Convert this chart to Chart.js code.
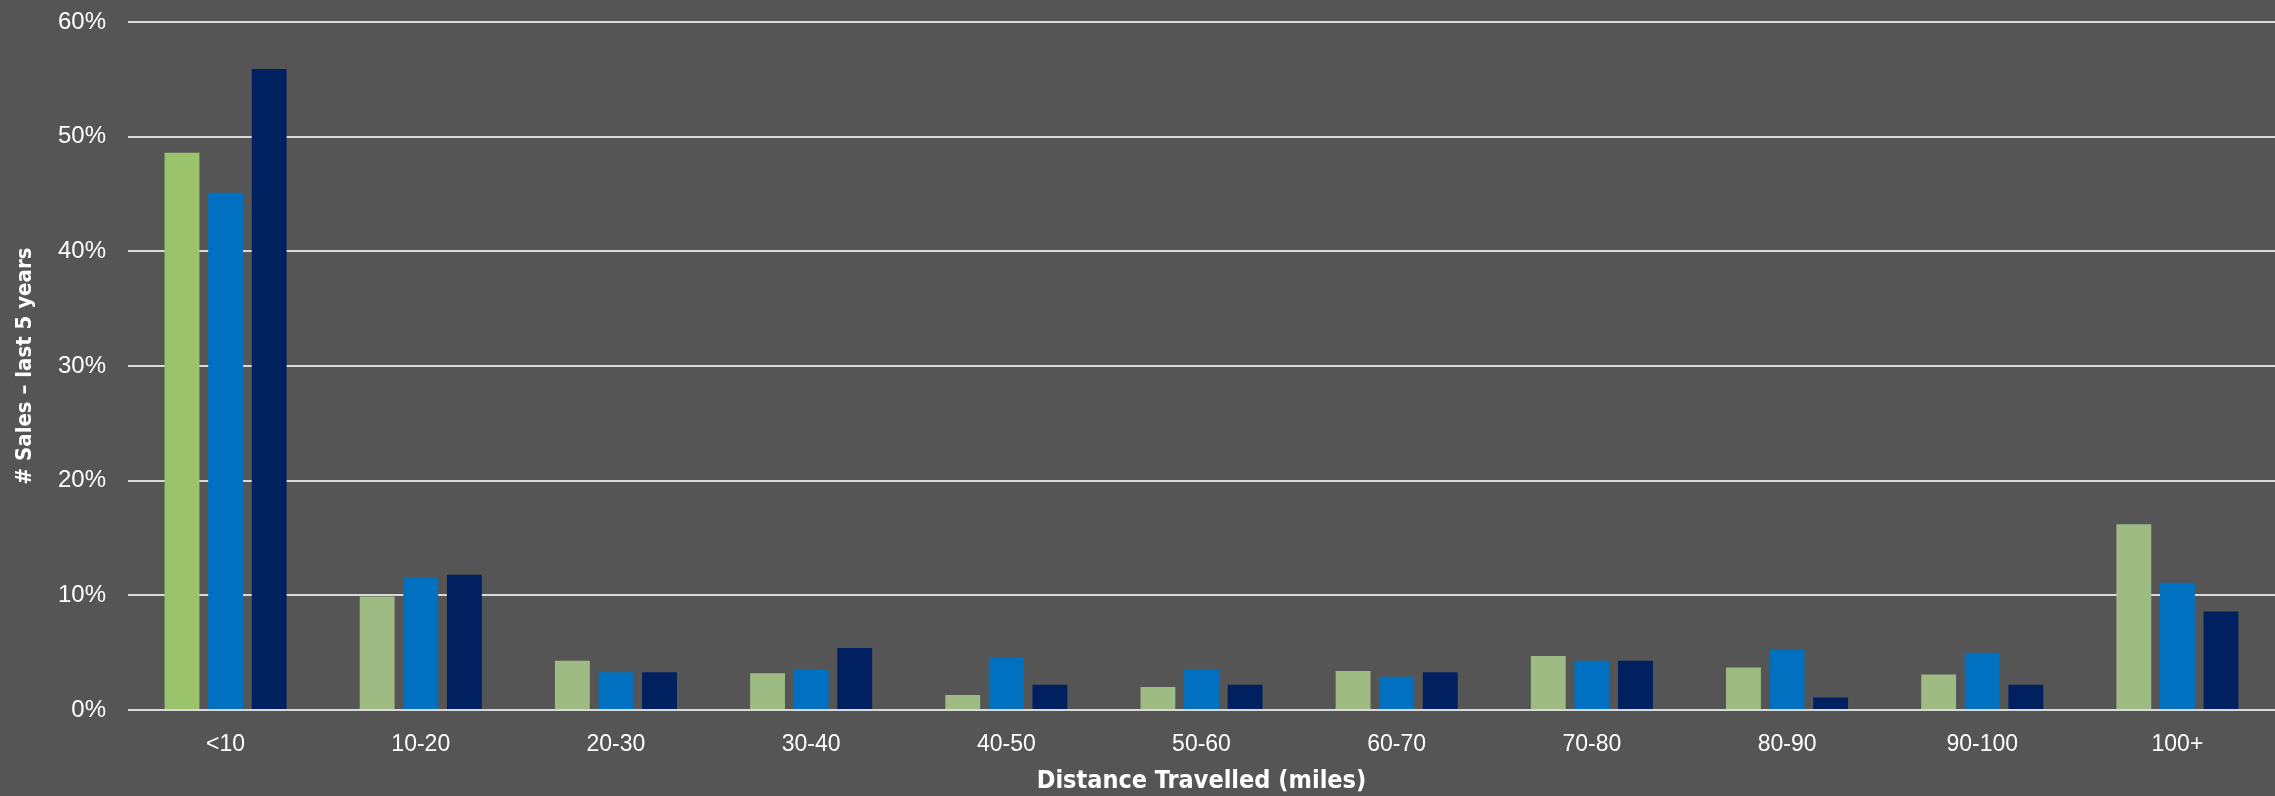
<!DOCTYPE html>
<html>
<head>
<meta charset="utf-8">
<title>Distance Travelled</title>
<script src="https://cdn.jsdelivr.net/npm/chart.js@4/dist/chart.umd.min.js"></script>
<style>
    html, body { margin: 0; padding: 0; background: #555555; }
    #wrap { width: 2275px; height: 796px; }
</style>
</head>
<body>
<div id="wrap"><canvas id="salesChart" width="2275" height="796"></canvas></div>
<script>
// values, in percent
var categories = ['<10', '10-20', '20-30', '30-40', '40-50', '50-60', '60-70', '70-80', '80-90', '90-100', '100+'];
var greenSeries = [48.6, 9.9, 4.3, 3.2, 1.3, 2.0, 3.4, 4.7, 3.7, 3.1, 16.2];
var blueSeries  = [45.1, 11.6, 3.3, 3.5, 4.6, 3.5, 2.9, 4.3, 5.3, 5.0, 11.1];
var navySeries  = [55.9, 11.8, 3.3, 5.4, 2.2, 2.2, 3.3, 4.3, 1.1, 2.2, 8.6];
var yTicks = [0, 10, 20, 30, 40, 50, 60];

window.sales = window.sales || {};
window.sales.DistanceChart = function() {
    var self = this;
    var narrow = "'Liberation Sans Narrow', 'Arial Narrow', 'DejaVu Sans Condensed', Roboto, 'Liberation Sans', sans-serif";

    var init = function() {
        self.el = document.getElementById('salesChart');
        render();
    };

    var greenColors = function() {
        // first bar is the brighter green, the rest are the washed one
        return greenSeries.map(function(v, i) { return i === 0 ? '#9BC36B' : '#9EBB83'; });
    };

    var render = function() {
        var bar = { categoryPercentage: 0.67, barPercentage: 0.8, borderWidth: 0 };
        new Chart(self.el, {
            type: 'bar',
            data: {
                labels: categories,
                datasets: [
                    Object.assign({ label: 'Series 1', data: greenSeries, backgroundColor: greenColors() }, bar),
                    Object.assign({ label: 'Series 2', data: blueSeries, backgroundColor: '#0070C0' }, bar),
                    Object.assign({ label: 'Series 3', data: navySeries, backgroundColor: '#002060' }, bar)
                ]
            },
            options: {
                responsive: false,
                animation: false,
                layout: { padding: { top: 22, right: 0, left: 0, bottom: 0 } },
                plugins: { legend: { display: false }, tooltip: { enabled: false } },
                scales: {
                    x: {
                        grid: { display: false },
                        border: { display: false },
                        ticks: { color: '#FFFFFF', font: { family: "'Liberation Sans', Arial, sans-serif", size: 23 }, padding: 13 },
                        title: {
                            display: true, text: 'Distance Travelled (miles)', color: '#FFFFFF',
                            font: { family: narrow, size: 25, weight: 'bold' },
                            padding: { top: 4, bottom: 0 }
                        },
                        afterFit: function(s) { s.height = 86; }
                    },
                    y: {
                        min: 0, max: 60,
                        afterBuildTicks: function(s) { s.ticks = yTicks.map(function(v) { return { value: v }; }); },
                        grid: { color: '#D9D9D9', lineWidth: 2, drawTicks: false },
                        border: { display: false },
                        ticks: {
                            color: '#FFFFFF', padding: 22,
                            font: { family: "'Liberation Sans', Arial, sans-serif", size: 24 },
                            callback: function(v) { return v + '%'; }
                        },
                        title: {
                            display: true, text: '# Sales – last 5 years', color: '#FFFFFF',
                            font: { family: narrow, size: 22, weight: 'bold' },
                            padding: { top: 12, bottom: 0 }
                        },
                        afterFit: function(s) {
                            s.width = 128;
                            s.paddingTop = 0;
                            s.paddingBottom = 0;
                        }
                    }
                }
            }
        });
    };

    return { init: init };
}();

window.sales.DistanceChart.init();
</script>
</body>
</html>
